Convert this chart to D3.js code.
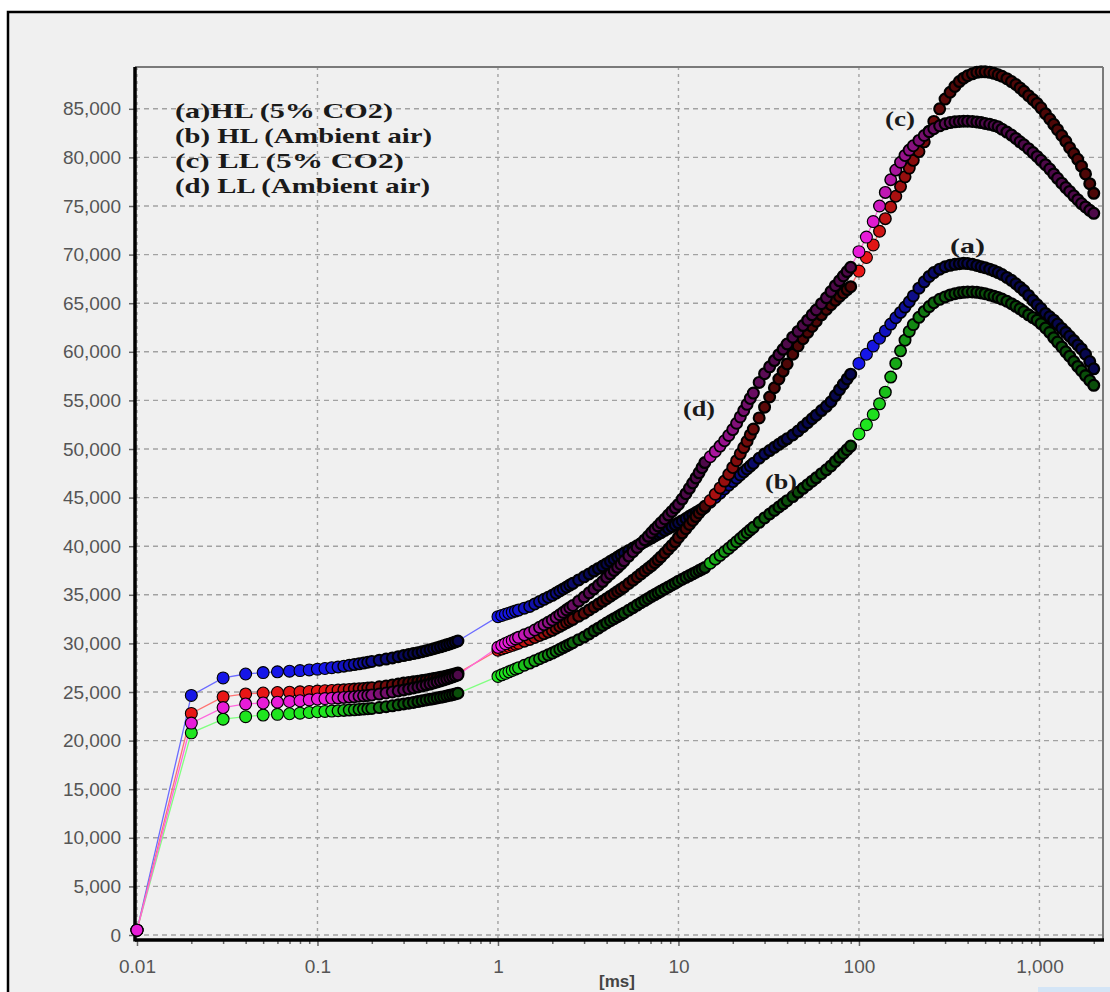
<!DOCTYPE html>
<html lang="en">
<head>
<meta charset="utf-8" />
<title>OJIP transients</title>
<script src="https://d3js.org/d3.v7.min.js"></script>
<style>
  body { margin: 0; background: #fff; }
  .tick text { font-family: "Liberation Sans", Arial, sans-serif; font-size: 19px; fill: #555; }
  .lbl { font-family: "Liberation Serif", "Times New Roman", serif; font-weight: bold; fill: #1a1a1a; }
</style>
</head>
<body>
<div id="chart"></div>
<script>
// time points (ms), shared by all four series
const times = [
  0.01, 0.02, 0.03, 0.04, 0.05, 0.06, 0.07, 0.08, 0.09, 0.1,
  0.11, 0.12, 0.13, 0.14, 0.15, 0.16, 0.17, 0.18, 0.19, 0.2,
  0.22, 0.24, 0.26, 0.28, 0.3, 0.32, 0.34, 0.36, 0.38, 0.4,
  0.42, 0.44, 0.46, 0.48, 0.5, 0.52, 0.54, 0.56, 0.58, 0.6,
  1, 1.05, 1.1, 1.15, 1.2, 1.25, 1.3, 1.4, 1.5, 1.6,
  1.7, 1.8, 1.9, 2, 2.1, 2.2, 2.3, 2.4, 2.5, 2.6,
  2.8, 3, 3.2, 3.4, 3.6, 3.8, 4, 4.2, 4.4, 4.6,
  4.8, 5, 5.3, 5.6, 5.9, 6.2, 6.5, 6.8, 7.1, 7.4,
  7.7, 8, 8.4, 8.8, 9.2, 9.6, 10, 10.5, 11, 11.5,
  12, 12.5, 13, 13.5, 14,
  15, 16, 17, 18, 19, 20, 21, 22, 23, 24,
  25, 26, 28, 30, 32, 34, 36, 38, 40, 43,
  46, 49, 52, 55, 58, 62, 66, 70, 74, 78,
  82, 86, 90,
  100, 110, 120, 130, 140, 150, 160, 170, 180, 190,
  200, 215, 230, 245, 260, 280, 300, 320, 340, 360,
  380, 400, 425, 450, 475, 500, 530, 560, 590, 620,
  660, 700, 740, 780, 820, 870, 920, 970, 1020, 1080,
  1140, 1200, 1260, 1330, 1400, 1470, 1550, 1630, 1710, 1800,
  1900, 2000
];

// (a) HL (5% CO2)
const seriesA = [
  500, 24650, 26450, 26850, 27000, 27080, 27140, 27200, 27270, 27350,
  27420, 27500, 27580, 27660, 27740, 27820, 27900, 27980, 28060, 28150,
  28270, 28390, 28510, 28630, 28750, 28850, 28950, 29050, 29150, 29250,
  29350, 29450, 29550, 29650, 29750, 29850, 29950, 30050, 30150, 30250,
  32750, 32880, 33000, 33110, 33220, 33330, 33430, 33620, 33800, 34060,
  34300, 34530, 34750, 34950, 35180, 35400, 35600, 35800, 36000, 36180,
  36530, 36850, 37150, 37440, 37710, 37960, 38200, 38440, 38670, 38890,
  39100, 39300, 39560, 39810, 40040, 40260, 40470, 40670, 40860, 41050,
  41230, 41400, 41620, 41830, 42020, 42200, 42400, 42630, 42850, 43070,
  43270, 43460, 43650, 43830, 44000,
  44520, 45010, 45460, 45900, 46290, 46650, 47000, 47330, 47650, 47950,
  48240, 48530, 49050, 49490, 49840, 50170, 50480, 50780, 51050, 51440,
  51850, 52300, 52710, 53110, 53480, 53950, 54390, 54860, 55500, 56100,
  56670, 57210, 57700,
  58800, 59750, 60600, 61400, 62150, 62850, 63500, 64050, 64600, 65150,
  65750, 66550, 67200, 67750, 68150, 68500, 68750, 68900, 69000, 69070,
  69100, 69080, 69000, 68880, 68750, 68650, 68500, 68330, 68150, 67950,
  67650, 67350, 67000, 66650, 66300, 65800, 65300, 64850, 64450, 63950,
  63600, 63250, 62850, 62400, 62000, 61600, 61150, 60700, 60300, 59750,
  59000, 58250
];

// (b) HL (Ambient air)
const seriesB = [
  500, 20800, 22200, 22460, 22630, 22700, 22760, 22820, 22890, 22970,
  23000, 23040, 23070, 23100, 23140, 23170, 23210, 23240, 23280, 23310,
  23400, 23490, 23580, 23680, 23770, 23850, 23930, 24010, 24100, 24180,
  24250, 24310, 24380, 24450, 24520, 24590, 24660, 24730, 24800, 24870,
  26600, 26770, 26920, 27080, 27220, 27360, 27490, 27750, 27980, 28210,
  28420, 28630, 28820, 29000, 29200, 29390, 29570, 29750, 29910, 30070,
  30380, 30660, 30980, 31290, 31570, 31840, 32100, 32330, 32540, 32740,
  32940, 33130, 33410, 33680, 33940, 34180, 34410, 34630, 34840, 35020,
  35200, 35380, 35600, 35810, 36010, 36200, 36400, 36600, 36800, 36980,
  37160, 37320, 37490, 37650, 37800,
  38250, 38670, 39060, 39430, 39780, 40130, 40470, 40790, 41100, 41390,
  41670, 41940, 42460, 42910, 43310, 43680, 44030, 44360, 44680, 45110,
  45540, 45950, 46330, 46690, 47030, 47460, 47860, 48260, 48720, 49140,
  49540, 49930, 50300,
  51550, 52500, 53550, 54650, 55850, 57400, 58800, 60100, 61200, 62100,
  62800, 63550, 64150, 64650, 65050, 65400, 65650, 65850, 65980, 66070,
  66120, 66150, 66150, 66120, 66060, 65980, 65850, 65720, 65580, 65420,
  65200, 64950, 64680, 64420, 64140, 63800, 63520, 63250, 62900, 62450,
  62000, 61450, 61000, 60500, 60000, 59550, 59000, 58500, 58050, 57550,
  57050, 56550
];

// (c) LL (5% CO2)
const seriesC = [
  500, 22800, 24500, 24800, 24900, 24950, 24980, 25020, 25060, 25100,
  25130, 25160, 25200, 25230, 25270, 25300, 25340, 25370, 25410, 25440,
  25540, 25630, 25730, 25820, 25920, 25980, 26050, 26110, 26180, 26240,
  26310, 26380, 26440, 26510, 26580, 26650, 26730, 26800, 26880, 26950,
  29300, 29430, 29560, 29680, 29800, 29910, 30020, 30220, 30400, 30610,
  30810, 31000, 31180, 31350, 31560, 31760, 31950, 32140, 32310, 32480,
  32800, 33100, 33440, 33750, 34050, 34330, 34600, 34860, 35110, 35350,
  35580, 35800, 36160, 36500, 36830, 37150, 37450, 37730, 38000, 38300,
  38600, 38900, 39300, 39700, 40080, 40450, 40900, 41350, 41800, 42230,
  42650, 43050, 43420, 43780, 44100,
  44700, 45350, 46000, 46700, 47400, 48100, 48800, 49500, 50150, 50800,
  51450, 52050, 53200, 54300, 55350, 56300, 57200, 58000, 58750, 59750,
  60600, 61350, 62000, 62600, 63150, 63800, 64350, 64850, 65300, 65700,
  66050, 66400, 66700,
  68300, 69700, 71000, 72400, 73700, 74900, 76000, 77000, 78000, 78900,
  79700, 80600, 81600, 82700, 83700, 85000, 86000, 86700, 87300, 87800,
  88150, 88400, 88600, 88750, 88800, 88800, 88750, 88650, 88500, 88350,
  88100, 87800, 87500, 87150, 86800, 86350, 85950, 85550, 85100, 84500,
  83950, 83400, 82850, 82250, 81650, 81000, 80400, 79800, 79100, 78300,
  77300, 76300
];

// (d) LL (Ambient air)
const seriesD = [
  500, 21800, 23400, 23770, 23870, 23950, 24020, 24100, 24190, 24280,
  24320, 24360, 24400, 24440, 24480, 24520, 24570, 24610, 24650, 24690,
  24790, 24900, 25000, 25110, 25210, 25310, 25410, 25520, 25620, 25720,
  25820, 25930, 26030, 26140, 26240, 26340, 26440, 26550, 26650, 26750,
  29600, 29800, 29980, 30150, 30310, 30470, 30620, 30880, 31100, 31380,
  31650, 31920, 32170, 32410, 32680, 32950, 33200, 33450, 33680, 33900,
  34340, 34770, 35200, 35600, 35980, 36360, 36800, 37160, 37500, 37830,
  38150, 38500, 38980, 39430, 39860, 40270, 40650, 41020, 41400, 41750,
  42080, 42400, 42800, 43200, 43580, 43950, 44300, 44850, 45400, 45950,
  46500, 47020, 47550, 48080, 48600,
  49200, 49750, 50300, 50850, 51400, 52000, 52650, 53300, 53950, 54600,
  55200, 55750, 56850, 57750, 58450, 59100, 59700, 60250, 60800, 61500,
  62100, 62700, 63250, 63800, 64300, 64950, 65550, 66200, 66800, 67300,
  67800, 68250, 68700,
  70300, 71800, 73400, 75000, 76400, 77700, 78700, 79500, 80200, 80750,
  81200, 81750, 82250, 82650, 82950, 83250, 83450, 83580, 83660, 83700,
  83720, 83720, 83700, 83650, 83580, 83500, 83400, 83280, 83150, 82900,
  82600, 82300, 81950, 81600, 81300, 80900, 80500, 80100, 79700, 79250,
  78800, 78300, 77850, 77350, 76900, 76500, 76050, 75650, 75250, 74900,
  74550, 74250
];

// recorder sampling interval (ms) in each time window; dense windows
// show up as dark bands of overlapping outlines in the original
const samplingFrom = [0.01, 1, 15, 100];
const samplingStep = [0.01, 0.1, 1, 10];

const legendLabels = ["(a)HL (5% CO2)", "(b) HL (Ambient air)", "(c) LL (5% CO2)", "(d) LL (Ambient air)"];
const curveTags = ["(a)", "(b)", "(c)", "(d)"];
const yTicks = [0, 5000, 10000, 15000, 20000, 25000, 30000, 35000, 40000,
                45000, 50000, 55000, 60000, 65000, 70000, 75000, 80000, 85000];
const xTicks = [0.01, 0.1, 1, 10, 100, 1000];
const xMinorTicks = [0.02, 0.03, 0.04, 0.05, 0.06, 0.07, 0.08, 0.09,
                     0.2, 0.3, 0.4, 0.5, 0.6, 0.7, 0.8, 0.9,
                     2, 3, 4, 5, 6, 7, 8, 9,
                     20, 30, 40, 50, 60, 70, 80, 90,
                     200, 300, 400, 500, 600, 700, 800, 900, 2000];

// look of each series: marker fill, joining line
const styles = [
  { fill: "#1616e8", line: "#6b6bff" },
  { fill: "#1fe61f", line: "#80ff80" },
  { fill: "#e81616", line: "#ff7272" },
  { fill: "#e81cd8", line: "#ff66dd" }
];

const width = 1110, height = 992;
const plot = { left: 135, right: 1103, top: 67, bottom: 940 };

const svg = d3.select("#chart").append("svg")
    .attr("width", width)
    .attr("height", height);

// outer frame
svg.append("rect")
    .attr("x", 8).attr("y", 12)
    .attr("width", 1200).attr("height", 1100)
    .attr("fill", "#f0f0f0")
    .attr("stroke", "#000")
    .attr("stroke-width", 2.5);

const x = d3.scaleLog().domain([0.00975, 2250]).range([plot.left, plot.right]);
const y = d3.scaleLinear().domain([-514, 89300]).range([plot.bottom, plot.top]);

// grid
svg.append("g").selectAll("line")
    .data(yTicks).enter().append("line")
    .attr("x1", plot.left).attr("x2", plot.right)
    .attr("y1", d => y(d)).attr("y2", d => y(d))
    .attr("stroke", "#a2a2a2").attr("stroke-width", 1.4)
    .attr("stroke-dasharray", "5,4");

svg.append("g").selectAll("line")
    .data(xTicks).enter().append("line")
    .attr("x1", d => x(d)).attr("x2", d => x(d))
    .attr("y1", plot.top).attr("y2", plot.bottom)
    .attr("stroke", "#a2a2a2").attr("stroke-width", 1.4)
    .attr("stroke-dasharray", "3,4");

// axes
const yAxis = svg.append("g")
    .attr("transform", "translate(" + plot.left + ",0)")
    .call(d3.axisLeft(y).tickValues(yTicks).tickFormat(d3.format(",")).tickSize(6).tickPadding(8));
const xAxis = svg.append("g")
    .attr("transform", "translate(0," + plot.bottom + ")")
    .call(d3.axisBottom(x).tickValues(xTicks).tickFormat(d3.format(",")).tickSize(6).tickPadding(14));
const xMinor = svg.append("g")
    .attr("transform", "translate(0," + plot.bottom + ")")
    .call(d3.axisBottom(x).tickValues(xMinorTicks).tickFormat("").tickSize(4));

[yAxis, xAxis, xMinor].forEach(g => {
    g.select(".domain").remove();
    g.selectAll(".tick line").attr("stroke", "#666").attr("stroke-width", 1.5);
});

// plot border: thin grey top/right, heavy black left/bottom
svg.append("line").attr("x1", plot.left).attr("x2", plot.right).attr("y1", plot.top).attr("y2", plot.top)
    .attr("stroke", "#7a7a7a").attr("stroke-width", 2);
svg.append("line").attr("x1", plot.right).attr("x2", plot.right).attr("y1", plot.top).attr("y2", plot.bottom)
    .attr("stroke", "#7a7a7a").attr("stroke-width", 2);
svg.append("line").attr("x1", plot.left).attr("x2", plot.left).attr("y1", plot.top).attr("y2", plot.bottom + 1.5)
    .attr("stroke", "#000").attr("stroke-width", 3.5);
svg.append("line").attr("x1", plot.left).attr("x2", plot.right + 1).attr("y1", plot.bottom).attr("y2", plot.bottom)
    .attr("stroke", "#000").attr("stroke-width", 3.5);

// data
const allSeries = [seriesA, seriesB, seriesC, seriesD].map(vals =>
    times.map((t, i) => ({ t: t, v: vals[i] })));

// how crowded the original recording is at time t (0 = sparse, up to 0.78)
function crowding(t) {
    let k = 0;
    samplingFrom.forEach((f, j) => { if (t >= f) k = j; });
    const gap = x(t + samplingStep[k]) - x(t);
    return Math.max(0, Math.min(0.78, (6.5 - gap) / 5.5));
}

const line = d3.line().x(d => x(d.t)).y(d => y(d.v));

svg.append("g").selectAll("path")
    .data(allSeries).enter().append("path")
    .attr("d", line)
    .attr("fill", "none")
    .attr("stroke", (d, i) => styles[i].line)
    .attr("stroke-width", 1.3);

allSeries.forEach((pts, i) => {
    const dark = d3.interpolateRgb(styles[i].fill, "#000");
    svg.append("g").selectAll("circle")
        .data(pts).enter().append("circle")
        .attr("cx", d => x(d.t))
        .attr("cy", d => y(d.v))
        .attr("r", d => 6.5 - (1.1 + 1.5 * crowding(d.t)) / 2)
        .attr("fill", d => dark(crowding(d.t) * 0.85))
        .attr("stroke", "#000")
        .attr("stroke-width", d => 1.1 + 1.5 * crowding(d.t));
});

// legend block (text only)
const legendPos = [
    { y: 118, w: 218 }, { y: 143, w: 257 }, { y: 168, w: 229 }, { y: 193, w: 255 }
];
svg.append("g").selectAll("text")
    .data(legendLabels).enter().append("text")
    .attr("class", "lbl")
    .attr("x", 175)
    .attr("y", (d, i) => legendPos[i].y)
    .attr("font-size", 21)
    .attr("textLength", (d, i) => legendPos[i].w)
    .attr("lengthAdjust", "spacingAndGlyphs")
    .text(d => d);

// curve tags
const tagPos = [
    { x: 950, y: 253, w: 35 }, { x: 765, y: 489, w: 32 },
    { x: 885, y: 126, w: 30 }, { x: 683, y: 416, w: 32 }
];
svg.append("g").selectAll("text")
    .data(curveTags).enter().append("text")
    .attr("class", "lbl")
    .attr("x", (d, i) => tagPos[i].x)
    .attr("y", (d, i) => tagPos[i].y)
    .attr("font-size", 21)
    .attr("textLength", (d, i) => tagPos[i].w)
    .attr("lengthAdjust", "spacingAndGlyphs")
    .text(d => d);

// axis unit
svg.append("text")
    .attr("x", 617).attr("y", 987)
    .attr("text-anchor", "middle")
    .attr("font-family", "Liberation Sans, Arial, sans-serif")
    .attr("font-size", 17).attr("font-weight", "bold")
    .attr("fill", "#444")
    .text("[ms]");

svg.append("rect")
    .attr("x", 1038).attr("y", 987).attr("width", 80).attr("height", 10)
    .attr("fill", "#d4e5f6");
</script>
</body>
</html>
